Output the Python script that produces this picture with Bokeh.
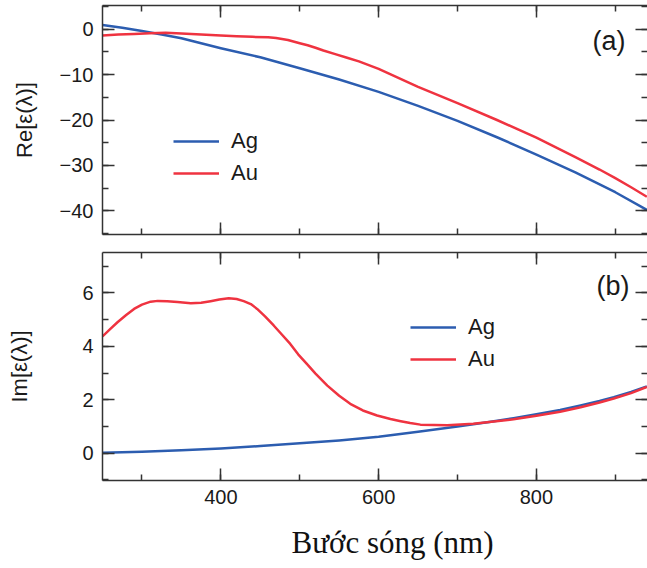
from bokeh.plotting import figure
from bokeh.models import LinearAxis, SingleIntervalTicker, Range1d, Label, Legend, LegendItem
from bokeh.layouts import column
from bokeh.embed import file_html
from bokeh.resources import INLINE

# ---------------- data ----------------
wl_re_ag = [250, 275, 300, 325, 350, 375, 400, 450, 500, 550, 600, 650, 700, 750, 800, 850, 900, 940]
re_ag = [0.9, 0.3, -0.4, -1.2, -2.0, -3.1, -4.2, -6.2, -8.6, -11.1, -13.8, -16.9, -20.2, -23.8, -27.6, -31.6, -35.9, -39.8]

wl_re_au = [250, 270, 290, 310, 330, 350, 375, 400, 420, 440, 460, 470, 485, 500, 510, 520, 530, 545, 560, 575, 600,
            650, 700, 750, 800, 850, 880, 900, 920, 940]
re_au = [-1.4, -1.2, -1.05, -0.9, -0.8, -0.95, -1.2, -1.4, -1.55, -1.7, -1.8, -1.95, -2.4, -3.1, -3.55, -4.1, -4.7, -5.5, -6.3, -7.1, -8.75,
         -12.7, -16.3, -20.0, -23.9, -28.2, -30.9, -32.8, -34.8, -36.9]

wl_im_ag = [250, 300, 350, 400, 450, 500, 550, 600, 650, 700, 740, 771, 800, 830, 856, 880, 898, 920, 940]
im_ag = [0.02, 0.06, 0.11, 0.18, 0.27, 0.37, 0.48, 0.62, 0.80, 1.0, 1.17, 1.31, 1.46, 1.62, 1.79, 1.96, 2.10, 2.29, 2.5]

wl_im_au = [250, 260, 269, 280, 290, 300, 311, 320, 332, 345, 362, 375, 387, 398, 410, 420, 429, 438, 446, 456,
            467, 477, 488, 498, 509, 520, 535, 550, 564, 580, 598, 615, 628, 640, 653, 670, 687, 720, 771, 800,
            830, 856, 880, 898, 920, 940]
im_au = [4.37, 4.65, 4.9, 5.17, 5.4, 5.56, 5.67, 5.7, 5.69, 5.66, 5.61, 5.63, 5.69, 5.75, 5.8, 5.77, 5.69, 5.58, 5.4, 5.12,
         4.78, 4.45, 4.09, 3.7, 3.34, 2.98, 2.53, 2.15, 1.85, 1.6, 1.41, 1.28, 1.2, 1.13, 1.07, 1.06, 1.05, 1.1, 1.27, 1.40,
         1.55, 1.72, 1.9, 2.05, 2.25, 2.48]

series_names = ["Ag", "Au"]
re_ticks = [0, -10, -20, -30, -40]
re_tick_labels = ["0", "\u221210", "\u221220", "\u221230", "\u221240"]
panel_labels = ["(a)", "(b)"]
x_title = "B\u01b0\u1edbc s\u00f3ng (nm)"
y_titles = ["Re[\u03b5(\u03bb)]", "Im[\u03b5(\u03bb)]"]

BLUE = "#2c5db0"
RED = "#ef3340"
AXC = "#333333"
FONT = "Liberation Sans"

X_RANGE = (250, 940.8)


def style_axis(ax, labels=True):
    ax.major_tick_in = 12
    ax.major_tick_out = 0
    ax.minor_tick_in = 6
    ax.minor_tick_out = 0
    ax.axis_line_color = AXC
    ax.axis_line_width = 1.5
    ax.major_tick_line_color = AXC
    ax.major_tick_line_width = 1.5
    ax.minor_tick_line_color = AXC
    ax.minor_tick_line_width = 1.5
    ax.major_label_text_font = FONT
    ax.major_label_text_font_size = "20px"
    ax.major_label_text_color = "#1a1a1a"
    ax.major_label_standoff = 9
    if not labels:
        ax.major_label_text_color = None
        ax.major_label_standoff = 0


def make_fig(height, yr, ytick_int, top_border, bottom_border, xlabels):
    p = figure(width=647, height=height, output_backend="svg", toolbar_location=None,
               x_range=Range1d(*X_RANGE), y_range=Range1d(*yr),
               x_axis_type=None, y_axis_type=None,
               min_border_left=102, min_border_right=0,
               min_border_top=top_border, min_border_bottom=bottom_border)
    p.outline_line_color = None
    p.background_fill_color = "white"
    p.border_fill_color = "white"
    xt = SingleIntervalTicker(interval=200, num_minor_ticks=2)
    yt = SingleIntervalTicker(interval=ytick_int, num_minor_ticks=2)
    bottom = LinearAxis(ticker=xt)
    left = LinearAxis(ticker=yt)
    top = LinearAxis(ticker=xt)
    right = LinearAxis(ticker=yt)
    p.add_layout(bottom, "below")
    p.add_layout(left, "left")
    p.add_layout(top, "above")
    p.add_layout(right, "right")
    style_axis(bottom, labels=xlabels)
    style_axis(left)
    style_axis(top, labels=False)
    style_axis(right, labels=False)
    right.axis_line_color = None
    return p, bottom, left


def style_ytitle(ax, text, standoff):
    ax.axis_label = text
    ax.axis_label_text_font = FONT
    ax.axis_label_text_font_size = "22px"
    ax.axis_label_text_font_style = "normal"
    ax.axis_label_text_color = "#1a1a1a"
    ax.axis_label_standoff = standoff


# ---------------- top panel ----------------
p1, b1, l1 = make_fig(243, (-45.2, 5.2), 10, 5, 9, False)
l1.major_label_overrides = dict(zip(re_ticks, re_tick_labels))
style_ytitle(l1, y_titles[0], 20)

r1a = p1.line(wl_re_ag, re_ag, line_color=BLUE, line_width=2.5, line_join="round")
r1b = p1.line(wl_re_au, re_au, line_color=RED, line_width=2.5, line_join="round")

# ---------------- bottom panel ----------------
p2, b2, l2 = make_fig(271, (-1.02, 7.51), 2, 9, 34, True)
style_ytitle(l2, y_titles[1], 47)

r2a = p2.line(wl_im_ag, im_ag, line_color=BLUE, line_width=2.5, line_join="round")
r2b = p2.line(wl_im_au, im_au, line_color=RED, line_width=2.5, line_join="round")


def add_legend(p, ra, rb, loc):
    lg = Legend(items=[LegendItem(label=series_names[0], renderers=[ra]),
                       LegendItem(label=series_names[1], renderers=[rb])],
                location=loc, border_line_color=None, background_fill_alpha=0,
                label_text_font=FONT, label_text_font_size="22px", label_text_color="#1a1a1a",
                glyph_width=46, glyph_height=20, label_height=20, spacing=6,
                padding=0, margin=0, label_standoff=12)
    p.add_layout(lg, "center")


add_legend(p1, r1a, r1b, (71, 48))
add_legend(p2, r2a, r2b, (308, 108))

for p, txt, (lx, ly) in ((p1, panel_labels[0], (490, 194)), (p2, panel_labels[1], (494, 195))):
    p.add_layout(Label(x=lx, y=ly, x_units="screen", y_units="screen", text=txt,
                       text_font=FONT, text_font_size="27px", text_color="#1a1a1a",
                       text_baseline="middle", text_align="left"))

# ---------------- x-axis title strip ----------------
p3 = figure(frame_width=545, frame_height=54, output_backend="svg", toolbar_location=None,
            x_range=Range1d(0, 1), y_range=Range1d(0, 1),
            x_axis_type=None, y_axis_type=None,
            min_border_left=102, min_border_right=0, min_border_top=0, min_border_bottom=0)
p3.outline_line_color = None
p3.xgrid.visible = False
p3.ygrid.visible = False
p3.add_layout(Label(x=290, y=26, x_units="screen", y_units="screen", text=x_title,
                    text_font="Liberation Serif", text_font_size="31px",
                    text_color="#111111", text_align="center", text_baseline="middle"))

layout = column(p1, p2, p3, spacing=0)
open("out.html", "w").write(file_html(layout, INLINE))
